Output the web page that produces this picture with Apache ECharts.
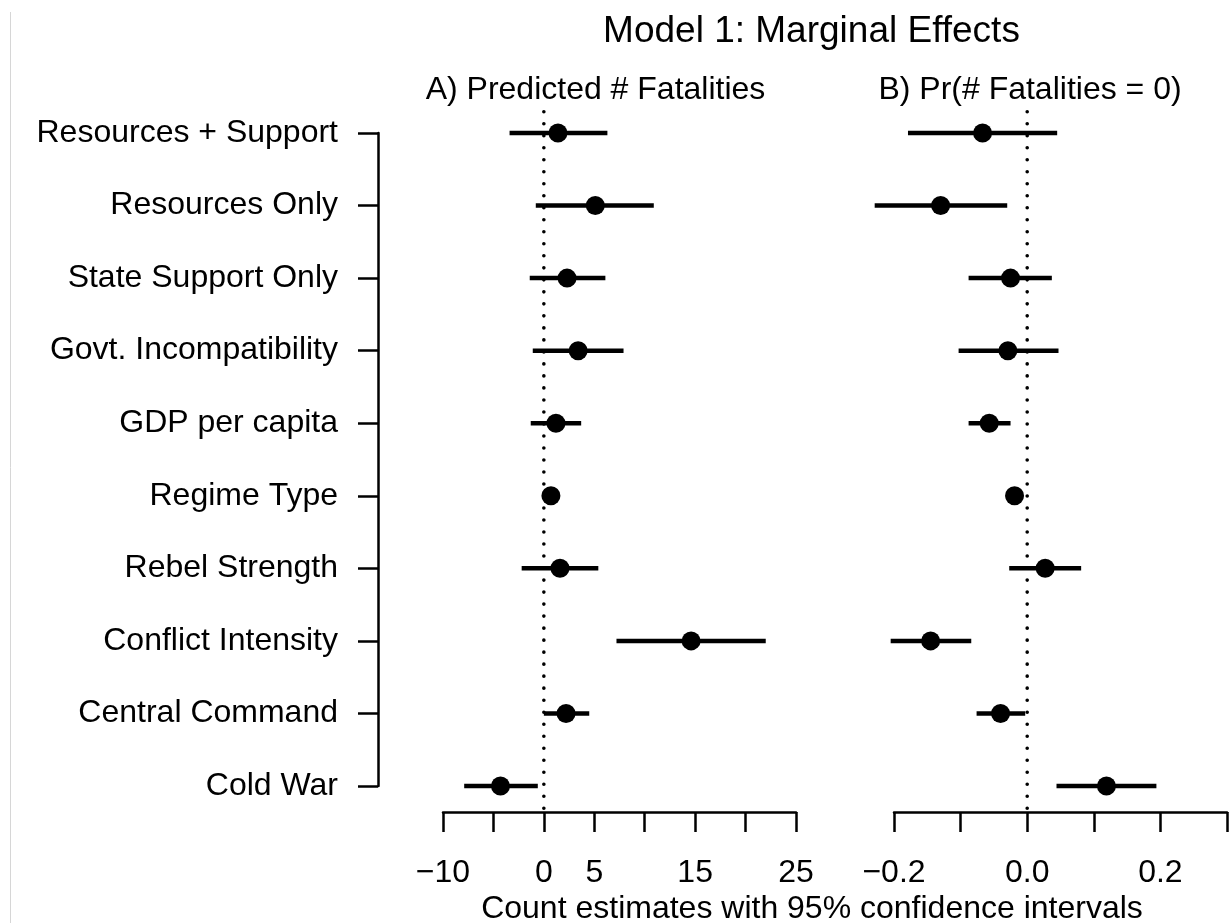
<!DOCTYPE html>
<html>
<head>
<meta charset="utf-8">
<script src="https://cdn.jsdelivr.net/npm/echarts@6/dist/echarts.min.js"></script>
<style>
html,body{margin:0;padding:0;background:#fff;}
#chart{width:1230px;height:923px;}
</style>
</head>
<body>
<div id="chart"></div>
<script>
const categories = ['Resources + Support','Resources Only','State Support Only','Govt. Incompatibility','GDP per capita','Regime Type','Rebel Strength','Conflict Intensity','Central Command','Cold War'];

// Panel A: Predicted # Fatalities
const fatalEst = [1.4, 5.1, 2.3, 3.4, 1.2, 0.7, 1.6, 14.6, 2.2, -4.3];
const fatalLo  = [-3.4, -0.8, -1.4, -1.1, -1.3, 0.3, -2.2, 7.2, 0.0, -7.9];
const fatalHi  = [6.3, 10.9, 6.1, 7.9, 3.7, 1.1, 5.4, 22.0, 4.5, -0.6];

// Panel B: Pr(# Fatalities = 0)
const zeroEst = [-0.067, -0.130, -0.025, -0.029, -0.057, -0.019, 0.027, -0.145, -0.040, 0.119];
const zeroLo  = [-0.179, -0.229, -0.088, -0.103, -0.088, -0.025, -0.027, -0.205, -0.076, 0.044];
const zeroHi  = [0.045, -0.030, 0.037, 0.047, -0.025, -0.013, 0.081, -0.084, -0.003, 0.194];

const tickLabelsA = [-10, 0, 5, 15, 25];
const tickLabelsB = [-0.2, 0.0, 0.2];

const mainTitle = 'Model 1: Marginal Effects';
const panelTitleA = 'A) Predicted # Fatalities';
const panelTitleB = 'B) Pr(# Fatalities = 0)';
const xTitle = 'Count estimates with 95% confidence intervals';

const FONT = '"Liberation Sans", Arial, Helvetica, sans-serif';
const FS = 32;

function build(est, lo, hi) {
  return est.map((v, i) => [v, lo[i], hi[i], i]);
}

function renderItem(params, api) {
  const y = api.value(3);
  const a = api.coord([api.value(1), y]);
  const b = api.coord([api.value(2), y]);
  const c = api.coord([api.value(0), y]);
  return {
    type: 'group',
    children: [
      {type: 'line', shape: {x1: a[0], y1: a[1], x2: b[0], y2: b[1]}, style: {stroke: '#000', lineWidth: 4.5}},
      {type: 'circle', shape: {cx: c[0], cy: c[1], r: 9.5}, style: {fill: '#000'}}
    ]
  };
}

function fmtMinus(s) { return String(s).replace('-', '\u2212'); }

const axisLineStyle = {color: '#000', width: 2.5};

const chart = echarts.init(document.getElementById('chart'), null, {renderer: 'canvas'});
const option = {
  animation: false,
  backgroundColor: '#fff',
  grid: [
    {left: 443, width: 353, top: 133, height: 653},
    {left: 894, width: 337, top: 133, height: 653}
  ],
  xAxis: [
    {
      gridIndex: 0, type: 'value', min: -10, max: 25, interval: 5,
      position: 'bottom', offset: 26,
      splitLine: {show: false},
      axisLine: {show: true, onZero: false, lineStyle: axisLineStyle},
      axisTick: {show: true, length: 20, lineStyle: axisLineStyle},
      axisLabel: {
        margin: 45, color: '#000', fontSize: FS, fontFamily: FONT,
        formatter: v => tickLabelsA.some(t => Math.abs(t - v) < 1e-9) ? fmtMinus(v) : ''
      }
    },
    {
      gridIndex: 1, type: 'value', min: -0.2, max: 0.3, interval: 0.1,
      position: 'bottom', offset: 26,
      splitLine: {show: false},
      axisLine: {show: true, onZero: false, lineStyle: axisLineStyle},
      axisTick: {show: true, length: 20, lineStyle: axisLineStyle},
      axisLabel: {
        margin: 45, color: '#000', fontSize: FS, fontFamily: FONT,
        showMaxLabel: true,
        formatter: v => tickLabelsB.some(t => Math.abs(t - v) < 1e-9) ? fmtMinus(v.toFixed(1)) : ''
      }
    }
  ],
  yAxis: [
    {
      gridIndex: 0, type: 'value', min: 0, max: categories.length - 1, interval: 1,
      inverse: true, position: 'left', offset: 65,
      splitLine: {show: false},
      axisLine: {show: true, onZero: false, lineStyle: axisLineStyle},
      axisTick: {show: true, length: 20, lineStyle: axisLineStyle},
      axisLabel: {
        margin: 40, color: '#000', fontSize: FS, fontFamily: FONT,
        formatter: v => categories[Math.round(v)] || ''
      }
    },
    {
      gridIndex: 1, type: 'value', min: 0, max: categories.length - 1, interval: 1,
      inverse: true, show: false
    }
  ],
  series: [
    {
      type: 'line', xAxisIndex: 0, yAxisIndex: 0, silent: true, clip: false,
      symbol: 'none', data: [[0, -0.36], [0, 9.36]],
      lineStyle: {color: '#000', width: 3.6, type: [0.01, 12], dashOffset: 7.2, cap: 'round'},
      z: 1
    },
    {
      type: 'line', xAxisIndex: 1, yAxisIndex: 1, silent: true, clip: false,
      symbol: 'none', data: [[0, -0.36], [0, 9.36]],
      lineStyle: {color: '#000', width: 3.6, type: [0.01, 12], dashOffset: 7.2, cap: 'round'},
      z: 1
    },
    {
      type: 'custom', xAxisIndex: 0, yAxisIndex: 0, clip: false,
      renderItem: renderItem,
      encode: {x: [0, 1, 2], y: 3},
      data: build(fatalEst, fatalLo, fatalHi),
      z: 2
    },
    {
      type: 'custom', xAxisIndex: 1, yAxisIndex: 1, clip: false,
      renderItem: renderItem,
      encode: {x: [0, 1, 2], y: 3},
      data: build(zeroEst, zeroLo, zeroHi),
      z: 2
    }
  ],
  graphic: [
    {type: 'line', shape: {x1: 10.5, y1: 12, x2: 10.5, y2: 923}, style: {stroke: '#d6d6d6', lineWidth: 1}, silent: true},
    {type: 'text', x: 811.5, y: 32, style: {text: mainTitle, fontSize: 37, fontFamily: FONT, fill: '#000', textAlign: 'center', textVerticalAlign: 'middle'}},
    {type: 'text', x: 595.5, y: 90, style: {text: panelTitleA, fontSize: FS, fontFamily: FONT, fill: '#000', textAlign: 'center', textVerticalAlign: 'middle'}},
    {type: 'text', x: 1030, y: 90, style: {text: panelTitleB, fontSize: FS, fontFamily: FONT, fill: '#000', textAlign: 'center', textVerticalAlign: 'middle'}},
    {type: 'text', x: 812, y: 909, style: {text: xTitle, fontSize: FS, fontFamily: FONT, fill: '#000', textAlign: 'center', textVerticalAlign: 'middle'}}
  ]
};
chart.setOption(option);
</script>
</body>
</html>
